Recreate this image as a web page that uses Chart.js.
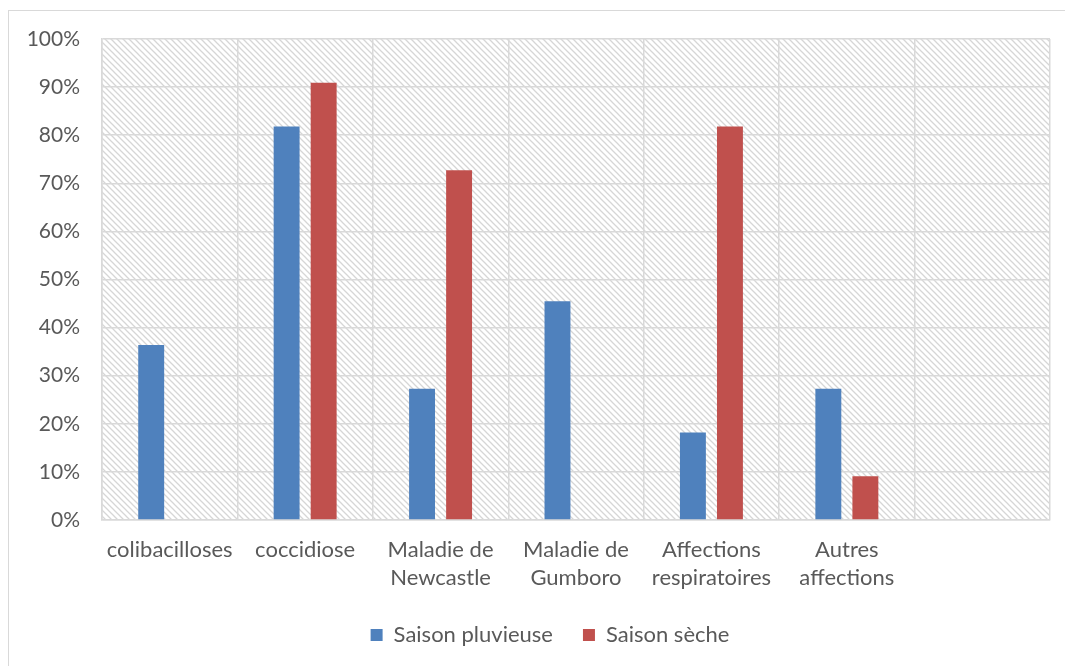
<!DOCTYPE html>
<html>
<head>
<meta charset="utf-8">
<script src="https://cdn.jsdelivr.net/npm/chart.js@4/dist/chart.umd.min.js"></script>
<style>
  body{margin:0;background:#fff;}
  #cadre{position:absolute;left:8px;top:10px;width:1080px;height:680px;border:1.5px solid #d9d9d9;}
  #zone{position:absolute;left:0;top:0;width:1065px;height:666px;}
</style>
</head>
<body>
<div id="cadre"></div>
<div id="zone"><canvas id="grafico"></canvas></div>
<script>
// categories et valeurs (en %)
const categorias = [
  'colibacilloses',
  'coccidiose',
  ['Maladie de', 'Newcastle'],
  ['Maladie de', 'Gumboro'],
  ['Affections', 'respiratoires'],
  ['Autres', 'affections'],
  ''
];
const saisonPluvieuse = [36.4, 81.8, 27.3, 45.5, 18.2, 27.3, null];
const saisonSeche = [0, 90.9, 72.7, 0, 81.8, 9.1, null];
const ticksY = [0, 10, 20, 30, 40, 50, 60, 70, 80, 90, 100];

// motif hachuré du fond
function hachures(){
    let c = document.createElement('canvas');
    c.width = 6; c.height = 6;
    let g = c.getContext('2d');
    g.strokeStyle = '#d6d6d6';
    g.lineWidth = 1.3;
    g.beginPath();
    g.moveTo(-1, -1); g.lineTo(7, 7);
    g.moveTo(-1, 5); g.lineTo(1, 7);
    g.moveTo(5, -1); g.lineTo(7, 1);
    g.stroke();
    return g.createPattern(c, 'repeat');
}

const fondHachure = {
    id: 'fondHachure',
    afterLayout(chart){
        // recentrer la légende comme dans l'original
        let l = chart.legend;
        let dx = 550 - (l.left + l.right) / 2;
        l.left += dx;
        l.right += dx;
    },
    beforeDraw(chart){
        let ctx = chart.ctx;
        let a = chart.chartArea;
        ctx.save();
        ctx.fillStyle = hachures();
        ctx.fillRect(a.left, a.top, a.right - a.left, a.bottom - a.top);
        ctx.restore();
    }
};

let canvasG = document.getElementById('grafico').getContext('2d');
let datos = {
    labels: categorias,
    datasets: [
        {
            label: 'Saison pluvieuse',
            data: saisonPluvieuse,
            backgroundColor: '#4f81bd',
            barPercentage: 0.70,
            categoryPercentage: 0.547
        },
        {
            label: 'Saison sèche',
            data: saisonSeche,
            backgroundColor: '#c0504d',
            barPercentage: 0.70,
            categoryPercentage: 0.547
        }
    ]
};
let opciones = {
    responsive: true,
    maintainAspectRatio: false,
    animation: false,
    layout: {padding: {top: 39, right: 15, bottom: 10, left: 0}},
    plugins: {
        legend: {
            position: 'bottom',
            labels: {
                boxWidth: 12,
                boxHeight: 12,
                padding: 30,
                color: '#595959',
                font: {family: 'Lato', size: 22}
            }
        },
        tooltip: {enabled: false}
    },
    scales: {
        x: {
            grid: {color: '#d9d9d9', lineWidth: 1.5, drawTicks: false, offset: true},
            border: {color: '#d9d9d9', width: 1.5},
            ticks: {
                color: '#595959',
                padding: 16,
                maxRotation: 0,
                autoSkip: false,
                font: {family: 'Lato', size: 22, lineHeight: 1.27}
            },
            afterFit(scale){ scale.height = 74; }
        },
        y: {
            min: 0,
            max: 100,
            afterBuildTicks(scale){ scale.ticks = ticksY.map(v => ({value: v})); },
            grid: {color: '#d9d9d9', lineWidth: 1.5, drawTicks: false},
            border: {color: '#d9d9d9', width: 1.5},
            ticks: {
                color: '#595959',
                padding: 22,
                font: {family: 'Lato', size: 21},
                callback: v => v + '%'
            },
            afterFit(scale){ scale.width = 102; }
        }
    }
};
let G = new Chart(canvasG, {
    type: 'bar',
    data: datos,
    options: opciones,
    plugins: [fondHachure]
});
</script>
</body>
</html>
